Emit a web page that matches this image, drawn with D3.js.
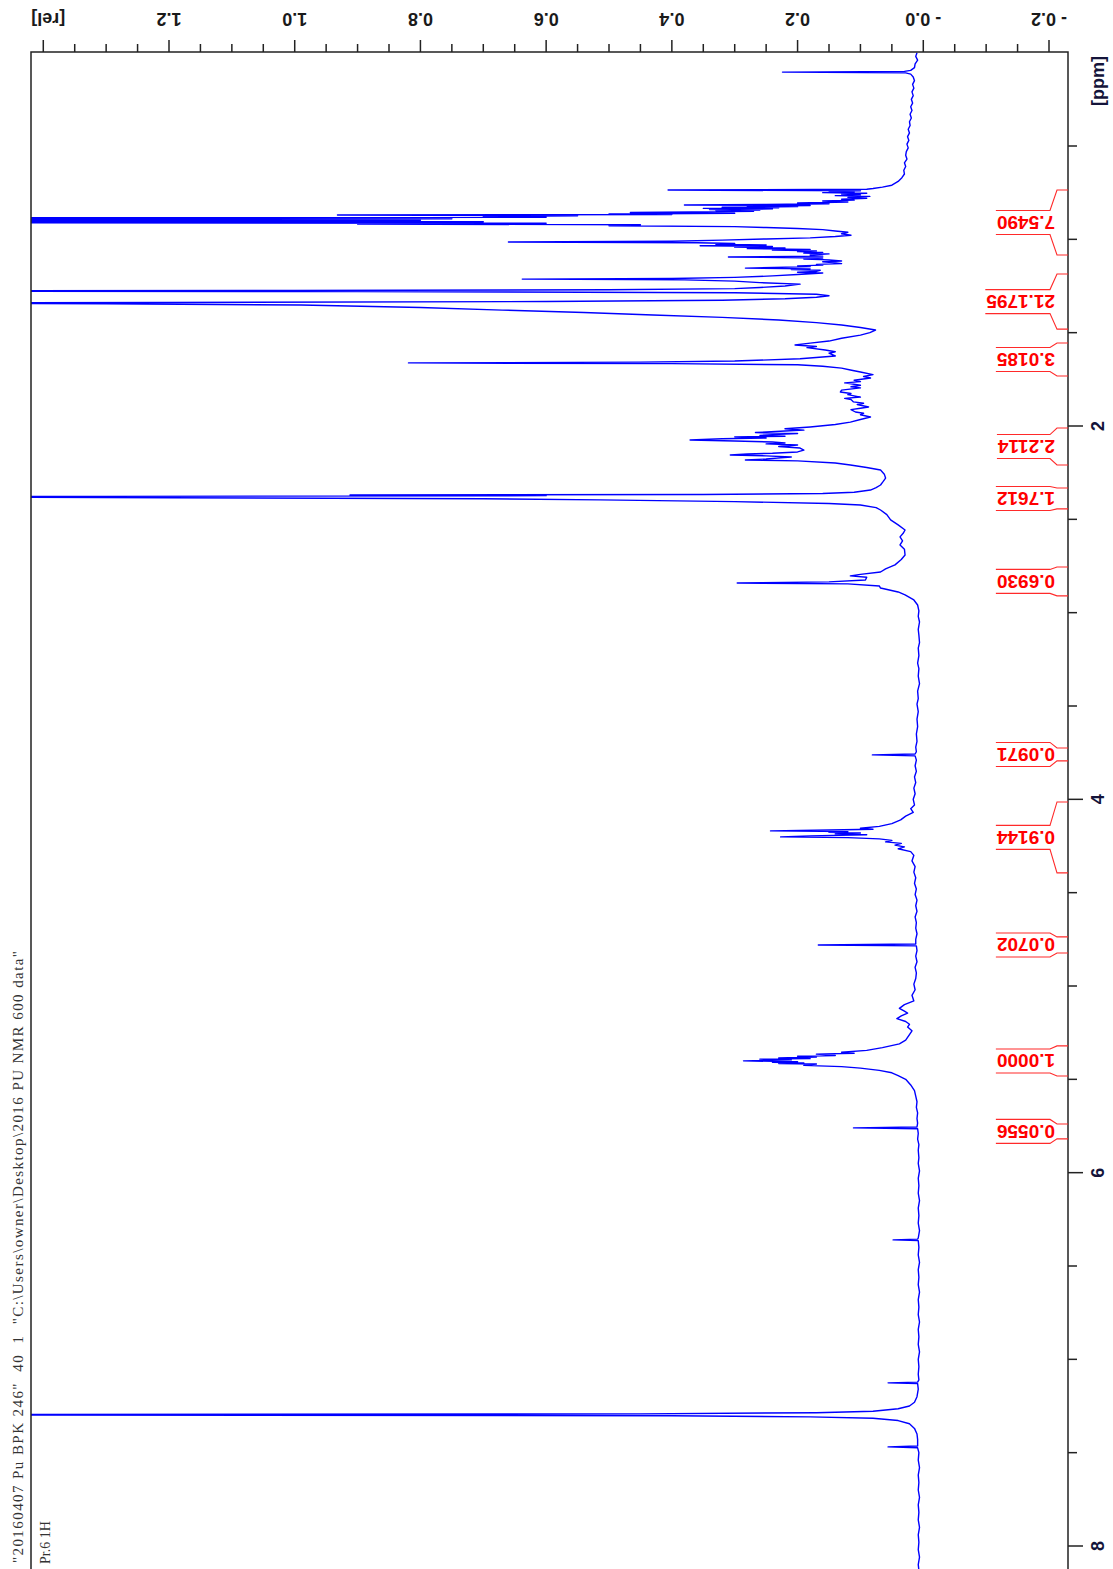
<!DOCTYPE html>
<html>
<head>
<meta charset="utf-8">
<script src="https://cdn.jsdelivr.net/npm/d3@7"></script>
<style>
  html, body { margin: 0; padding: 0; background: #fff; }
  svg { display: block; }
</style>
</head>
<body>
<svg id="chart" width="1113" height="1569"></svg>
<script>
// 1H spectrum as [chemical shift (ppm), relative intensity]
const spectrum = [
  [0.00, 0.010], [0.02, 0.012], [0.04, 0.009], [0.06, 0.013], [0.08, 0.014], [0.095, 0.020],
  [0.100, 0.030], [0.104, 0.224], [0.108, 0.028], [0.115, 0.020], [0.13, 0.016], [0.15, 0.014],
  [0.17, 0.017], [0.19, 0.015], [0.21, 0.018], [0.23, 0.016], [0.25, 0.019], [0.27, 0.017],
  [0.29, 0.020], [0.31, 0.018], [0.33, 0.021], [0.35, 0.019], [0.37, 0.022], [0.39, 0.021],
  [0.41, 0.024], [0.43, 0.022], [0.45, 0.025], [0.47, 0.023], [0.49, 0.026], [0.51, 0.024],
  [0.53, 0.027], [0.55, 0.028], [0.57, 0.026], [0.59, 0.030], [0.61, 0.028], [0.63, 0.031],
  [0.65, 0.030], [0.67, 0.034], [0.69, 0.040], [0.71, 0.050], [0.72, 0.065], [0.728, 0.080],
  [0.732, 0.090], [0.736, 0.406], [0.740, 0.100], [0.743, 0.150], [0.746, 0.110], [0.750, 0.160],
  [0.753, 0.090], [0.757, 0.130], [0.762, 0.100], [0.766, 0.140], [0.770, 0.085], [0.775, 0.120],
  [0.780, 0.090], [0.785, 0.130], [0.790, 0.110], [0.795, 0.160], [0.800, 0.120], [0.805, 0.200],
  [0.809, 0.150], [0.813, 0.250], [0.816, 0.380], [0.819, 0.180], [0.822, 0.280], [0.825, 0.200],
  [0.828, 0.320], [0.831, 0.230], [0.834, 0.350], [0.837, 0.240], [0.840, 0.340], [0.843, 0.260],
  [0.846, 0.330], [0.850, 0.270], [0.856, 0.466], [0.860, 0.300], [0.864, 0.500], [0.867, 0.400],
  [0.870, 0.932], [0.874, 0.550], [0.878, 0.700], [0.882, 0.600], [0.886, 1.800], [0.890, 0.750],
  [0.894, 1.800], [0.898, 0.800], [0.902, 1.800], [0.906, 0.700], [0.910, 1.800], [0.914, 0.600],
  [0.918, 0.900], [0.922, 0.450], [0.927, 0.500], [0.932, 0.300], [0.937, 0.250], [0.942, 0.200],
  [0.948, 0.160], [0.955, 0.140], [0.962, 0.120], [0.970, 0.130], [0.978, 0.115], [0.985, 0.140],
  [0.992, 0.180], [0.998, 0.250], [1.004, 0.320], [1.010, 0.400], [1.014, 0.660], [1.018, 0.360],
  [1.022, 0.300], [1.026, 0.330], [1.030, 0.250], [1.034, 0.355], [1.038, 0.240], [1.042, 0.300],
  [1.046, 0.220], [1.050, 0.280], [1.054, 0.180], [1.058, 0.240], [1.062, 0.170], [1.066, 0.200],
  [1.070, 0.160], [1.074, 0.190], [1.078, 0.150], [1.084, 0.180], [1.090, 0.160], [1.095, 0.310],
  [1.100, 0.160], [1.105, 0.190], [1.110, 0.150], [1.116, 0.130], [1.120, 0.160], [1.124, 0.145],
  [1.130, 0.130], [1.134, 0.170], [1.138, 0.160], [1.142, 0.200], [1.146, 0.180], [1.154, 0.283],
  [1.158, 0.180], [1.162, 0.210], [1.166, 0.164], [1.172, 0.170], [1.176, 0.200], [1.180, 0.160],
  [1.188, 0.200], [1.196, 0.240], [1.204, 0.300], [1.210, 0.400], [1.213, 0.638], [1.217, 0.380],
  [1.224, 0.300], [1.232, 0.260], [1.240, 0.196], [1.250, 0.220], [1.258, 0.260], [1.264, 0.300],
  [1.270, 0.500], [1.274, 1.000], [1.277, 1.800], [1.280, 0.900], [1.286, 0.300], [1.294, 0.170],
  [1.302, 0.150], [1.310, 0.170], [1.318, 0.220], [1.326, 0.320], [1.333, 0.600], [1.338, 1.200],
  [1.341, 1.800], [1.345, 1.300], [1.352, 0.990], [1.365, 0.800], [1.379, 0.670], [1.392, 0.540],
  [1.405, 0.430], [1.418, 0.320], [1.432, 0.230], [1.446, 0.170], [1.459, 0.130], [1.472, 0.100],
  [1.486, 0.076], [1.500, 0.085], [1.513, 0.100], [1.530, 0.130], [1.545, 0.150], [1.556, 0.180],
  [1.566, 0.204], [1.574, 0.170], [1.580, 0.185], [1.593, 0.156], [1.602, 0.140], [1.610, 0.150],
  [1.625, 0.140], [1.640, 0.196], [1.652, 0.300], [1.658, 0.450], [1.662, 0.819], [1.666, 0.400],
  [1.672, 0.200], [1.680, 0.160], [1.690, 0.130], [1.700, 0.116], [1.711, 0.100], [1.725, 0.080],
  [1.735, 0.095], [1.743, 0.084], [1.755, 0.110], [1.762, 0.100], [1.769, 0.125], [1.782, 0.100],
  [1.790, 0.115], [1.796, 0.100], [1.808, 0.130], [1.818, 0.132], [1.826, 0.115], [1.832, 0.120],
  [1.845, 0.100], [1.852, 0.125], [1.858, 0.115], [1.871, 0.111], [1.878, 0.095], [1.885, 0.105],
  [1.898, 0.087], [1.905, 0.100], [1.912, 0.115], [1.925, 0.108], [1.932, 0.095], [1.940, 0.100],
  [1.952, 0.084], [1.965, 0.100], [1.979, 0.116], [1.992, 0.140], [2.005, 0.180], [2.015, 0.220],
  [2.022, 0.190], [2.027, 0.220], [2.035, 0.267], [2.040, 0.200], [2.046, 0.240], [2.050, 0.260],
  [2.055, 0.220], [2.058, 0.300], [2.064, 0.250], [2.068, 0.320], [2.075, 0.371], [2.080, 0.300],
  [2.086, 0.240], [2.091, 0.220], [2.096, 0.250], [2.102, 0.200], [2.110, 0.230], [2.118, 0.196],
  [2.129, 0.190], [2.139, 0.200], [2.146, 0.240], [2.150, 0.280], [2.155, 0.307], [2.160, 0.250],
  [2.166, 0.210], [2.171, 0.227], [2.177, 0.250], [2.182, 0.283], [2.187, 0.200], [2.198, 0.140],
  [2.209, 0.116], [2.222, 0.090], [2.236, 0.068], [2.258, 0.062], [2.279, 0.060], [2.298, 0.064],
  [2.316, 0.068], [2.330, 0.075], [2.343, 0.084], [2.355, 0.110], [2.362, 0.160], [2.367, 0.350],
  [2.370, 0.912], [2.373, 0.600], [2.377, 1.300], [2.380, 1.800], [2.384, 1.200], [2.390, 0.700],
  [2.396, 0.514], [2.405, 0.300], [2.415, 0.150], [2.423, 0.100], [2.437, 0.075], [2.450, 0.068],
  [2.475, 0.058], [2.503, 0.052], [2.530, 0.040], [2.557, 0.029], [2.575, 0.032], [2.594, 0.037],
  [2.615, 0.033], [2.637, 0.037], [2.660, 0.030], [2.691, 0.029], [2.715, 0.035], [2.744, 0.045],
  [2.765, 0.060], [2.782, 0.068], [2.795, 0.100], [2.803, 0.116], [2.810, 0.090], [2.825, 0.092],
  [2.835, 0.150], [2.841, 0.296], [2.846, 0.120], [2.857, 0.070], [2.868, 0.068], [2.889, 0.040],
  [2.905, 0.029], [2.932, 0.015], [2.959, 0.009], [2.99, 0.007], [3.02, 0.008], [3.05, 0.006],
  [3.09, 0.008], [3.12, 0.007], [3.16, 0.006], [3.19, 0.008], [3.23, 0.007], [3.27, 0.009],
  [3.30, 0.007], [3.34, 0.008], [3.38, 0.006], [3.42, 0.009], [3.46, 0.008], [3.49, 0.010],
  [3.53, 0.008], [3.57, 0.010], [3.61, 0.009], [3.65, 0.011], [3.69, 0.010], [3.72, 0.012],
  [3.745, 0.011], [3.757, 0.013], [3.762, 0.081], [3.767, 0.013], [3.79, 0.011], [3.82, 0.013],
  [3.85, 0.011], [3.88, 0.014], [3.91, 0.012], [3.94, 0.015], [3.97, 0.013], [4.00, 0.016],
  [4.03, 0.014], [4.05, 0.020], [4.07, 0.016], [4.09, 0.028], [4.11, 0.036], [4.13, 0.050],
  [4.145, 0.070], [4.155, 0.100], [4.160, 0.080], [4.164, 0.150], [4.169, 0.243], [4.173, 0.120],
  [4.177, 0.150], [4.180, 0.100], [4.185, 0.140], [4.190, 0.090], [4.196, 0.180], [4.201, 0.227],
  [4.205, 0.120], [4.209, 0.090], [4.212, 0.070], [4.220, 0.050], [4.228, 0.060], [4.236, 0.035],
  [4.245, 0.045], [4.255, 0.030], [4.265, 0.040], [4.28, 0.020], [4.30, 0.015], [4.33, 0.018],
  [4.36, 0.013], [4.39, 0.015], [4.42, 0.012], [4.45, 0.014], [4.48, 0.011], [4.51, 0.013],
  [4.54, 0.010], [4.57, 0.012], [4.60, 0.010], [4.63, 0.013], [4.66, 0.011], [4.69, 0.012],
  [4.72, 0.010], [4.750, 0.012], [4.775, 0.012], [4.780, 0.167], [4.785, 0.011], [4.81, 0.010],
  [4.84, 0.012], [4.87, 0.010], [4.90, 0.013], [4.93, 0.011], [4.96, 0.012], [4.99, 0.015],
  [5.02, 0.013], [5.05, 0.018], [5.08, 0.015], [5.10, 0.030], [5.12, 0.038], [5.135, 0.030],
  [5.145, 0.025], [5.16, 0.035], [5.175, 0.042], [5.19, 0.028], [5.205, 0.022], [5.22, 0.025],
  [5.24, 0.018], [5.26, 0.022], [5.29, 0.028], [5.31, 0.038], [5.33, 0.065], [5.345, 0.090],
  [5.355, 0.130], [5.360, 0.110], [5.365, 0.170], [5.372, 0.140], [5.376, 0.200], [5.380, 0.170],
  [5.386, 0.230], [5.389, 0.180], [5.392, 0.260], [5.396, 0.210], [5.401, 0.286], [5.406, 0.200],
  [5.409, 0.240], [5.412, 0.190], [5.415, 0.230], [5.418, 0.170], [5.425, 0.190], [5.432, 0.130],
  [5.440, 0.100], [5.452, 0.070], [5.465, 0.050], [5.48, 0.040], [5.50, 0.028], [5.53, 0.020],
  [5.56, 0.014], [5.59, 0.012], [5.62, 0.010], [5.65, 0.011], [5.68, 0.009], [5.71, 0.010],
  [5.735, 0.009], [5.755, 0.010], [5.760, 0.111], [5.765, 0.009], [5.79, 0.008], [5.82, 0.009],
  [5.85, 0.007], [5.88, 0.008], [5.92, 0.007], [5.95, 0.008], [5.99, 0.006], [6.03, 0.008],
  [6.07, 0.007], [6.11, 0.008], [6.15, 0.006], [6.19, 0.008], [6.23, 0.007], [6.27, 0.008],
  [6.31, 0.006], [6.350, 0.008], [6.356, 0.009], [6.360, 0.048], [6.364, 0.008], [6.40, 0.007],
  [6.44, 0.008], [6.48, 0.006], [6.52, 0.008], [6.56, 0.007], [6.60, 0.008], [6.64, 0.006],
  [6.68, 0.008], [6.72, 0.007], [6.76, 0.008], [6.80, 0.006], [6.84, 0.008], [6.88, 0.007],
  [6.92, 0.008], [6.96, 0.006], [7.00, 0.008], [7.04, 0.007], [7.08, 0.008], [7.11, 0.007],
  [7.122, 0.009], [7.126, 0.056], [7.130, 0.009], [7.16, 0.008], [7.20, 0.010], [7.23, 0.014],
  [7.25, 0.022], [7.265, 0.040], [7.278, 0.080], [7.286, 0.170], [7.292, 0.450], [7.297, 1.800],
  [7.302, 0.400], [7.308, 0.180], [7.316, 0.080], [7.328, 0.040], [7.345, 0.022], [7.37, 0.014],
  [7.40, 0.010], [7.43, 0.009], [7.464, 0.009], [7.469, 0.056], [7.474, 0.009], [7.50, 0.007],
  [7.54, 0.008], [7.58, 0.006], [7.62, 0.008], [7.66, 0.007], [7.70, 0.008], [7.74, 0.006],
  [7.78, 0.008], [7.82, 0.007], [7.86, 0.008], [7.90, 0.006], [7.94, 0.008], [7.98, 0.007],
  [8.02, 0.008], [8.06, 0.006], [8.10, 0.008], [8.13, 0.007]
];

// integral regions: printed value and ppm limits
const integralLabels = ["7.5490", "21.1795", "3.0185", "2.2114", "1.7612", "0.6930",
                        "0.0971", "0.9144", "0.0702", "1.0000", "0.0556"];
const integralFrom = [0.736, 1.186, 1.555, 2.011, 2.332, 2.755, 3.725, 4.014, 4.737, 5.321, 5.739];
const integralTo   = [1.084, 1.481, 1.732, 2.209, 2.444, 2.910, 3.794, 4.394, 4.823, 5.482, 5.819];

// axis ticks and labels
const relTicks = [-0.2, 0.0, 0.2, 0.4, 0.6, 0.8, 1.0, 1.2, 1.4];
const relTickLabels = ["- 0.2", "- 0.0", "0.2", "0.4", "0.6", "0.8", "1.0", "1.2", "[rel]"];
const ppmTicks = [2, 4, 6, 8];
const ppmTickLabels = ["2", "4", "6", "8"];
const ppmUnit = "[ppm]";

// header lines
const titleLines = [
  '"20160407 Pu BPK 246"  40  1  "C:\\Users\\owner\\Desktop\\2016 PU NMR 600 data"',
  'Pr.6 1H'
];

const frame = { left: 31, top: 52, right: 1068, bottom: 1569 };
const svg = d3.select("#chart");

// intensity runs right-to-left, chemical shift runs top-to-bottom
const x = d3.scaleLinear().domain([-0.2, 1.2]).range([1049, 169]);
const y = d3.scaleLinear().domain([2, 8]).range([426, 1546]);

svg.append("defs").append("clipPath").attr("id", "plot-area")
  .append("rect")
  .attr("x", frame.left).attr("y", frame.top)
  .attr("width", frame.right - frame.left).attr("height", frame.bottom - frame.top);

// spectrum trace
svg.append("path")
  .datum(spectrum)
  .attr("clip-path", "url(#plot-area)")
  .attr("fill", "none")
  .attr("stroke", "#0000ff")
  .attr("stroke-width", 1.4)
  .attr("stroke-linejoin", "round")
  .attr("d", d3.line().x(d => x(d[1])).y(d => y(d[0])));

// frame: left edge, top (intensity) axis, right (shift) axis
svg.append("path")
  .attr("d", `M${frame.left},${frame.bottom}V${frame.top}H${frame.right}V${frame.bottom}`)
  .attr("fill", "none").attr("stroke", "#222").attr("stroke-width", 1.5);

const axisFont = "'Liberation Sans', Arial, sans-serif";

// top axis ticks
const relMinor = d3.range(-4, 29).map(i => i * 0.05)
  .filter(v => !relTicks.some(t => Math.abs(t - v) < 1e-6));
svg.append("g").selectAll("line").data(relMinor).join("line")
  .attr("x1", d => x(d)).attr("x2", d => x(d))
  .attr("y1", frame.top).attr("y2", frame.top - 8)
  .attr("stroke", "#222").attr("stroke-width", 1.5);
svg.append("g").selectAll("line").data(relTicks).join("line")
  .attr("x1", d => x(d)).attr("x2", d => x(d))
  .attr("y1", frame.top).attr("y2", frame.top - 12)
  .attr("stroke", "#222").attr("stroke-width", 1.5);
const relLabelX = d => x(d) + (d === 1.4 ? 5 : 0);
svg.append("g").selectAll("text").data(relTicks).join("text")
  .attr("x", relLabelX).attr("y", 19)
  .attr("transform", d => `rotate(180 ${relLabelX(d)} 19)`)
  .attr("text-anchor", "middle").attr("dominant-baseline", "central")
  .attr("font-family", axisFont).attr("font-weight", "bold").attr("font-size", 18)
  .attr("fill", "#1a1a1a")
  .text((d, i) => relTickLabels[i]);

// right axis ticks
const ppmMinor = d3.range(1, 17).map(i => i * 0.5).filter(v => !ppmTicks.includes(v));
svg.append("g").selectAll("line").data(ppmMinor).join("line")
  .attr("x1", frame.right).attr("x2", frame.right + 9)
  .attr("y1", d => y(d)).attr("y2", d => y(d))
  .attr("stroke", "#222").attr("stroke-width", 1.5);
svg.append("g").selectAll("line").data(ppmTicks).join("line")
  .attr("x1", frame.right).attr("x2", frame.right + 15)
  .attr("y1", d => y(d)).attr("y2", d => y(d))
  .attr("stroke", "#222").attr("stroke-width", 1.5);
svg.append("g").selectAll("text").data(ppmTicks).join("text")
  .attr("x", 1098).attr("y", d => y(d))
  .attr("transform", d => `rotate(-90 1098 ${y(d)})`)
  .attr("text-anchor", "middle").attr("dominant-baseline", "central")
  .attr("font-family", axisFont).attr("font-weight", "bold").attr("font-size", 18)
  .attr("fill", "#14143a")
  .text((d, i) => ppmTickLabels[i]);
svg.append("text")
  .attr("x", 1098).attr("y", 81)
  .attr("transform", "rotate(-90 1098 81)")
  .attr("text-anchor", "middle").attr("dominant-baseline", "central")
  .attr("font-family", axisFont).attr("font-weight", "bold").attr("font-size", 18)
  .attr("fill", "#14143a")
  .text(ppmUnit);

// integral brackets and values
const integ = svg.append("g");
const textX = 1055;
integralLabels.forEach((label, i) => {
  const y0 = y(integralFrom[i]), y1 = y(integralTo[i]);
  const cy = (y0 + y1) / 2;
  const t = integ.append("text")
    .attr("x", textX).attr("y", cy)
    .attr("transform", `rotate(180 ${textX} ${cy})`)
    .attr("text-anchor", "start").attr("dominant-baseline", "central")
    .attr("font-family", axisFont).attr("font-weight", "bold").attr("font-size", 19)
    .attr("fill", "#ff0000")
    .text(label);
  const w = t.node().getComputedTextLength();
  const left = textX - w - 1;
  const bt = cy - 12, bb = cy + 12;
  integ.append("path")
    .attr("d", `M${frame.right},${y0}H1057L1050,${bt}H${left}M${left},${bb}H1050L1057,${y1}H${frame.right}`)
    .attr("fill", "none").attr("stroke", "#ff2a2a").attr("stroke-width", 1.1);
});

// header text, written along the left edge
const serif = "'Liberation Serif', 'Times New Roman', serif";
const header = svg.append("g");
header.append("text")
  .attr("transform", "translate(18,1563) rotate(-90)")
  .attr("dominant-baseline", "central")
  .attr("xml:space", "preserve").style("white-space", "pre")
  .attr("font-family", serif).attr("font-size", 15)
  .attr("fill", "#333")
  .attr("textLength", 612).attr("lengthAdjust", "spacing")
  .text(titleLines[0]);
header.append("text")
  .attr("transform", "translate(45,1564) rotate(-90)")
  .attr("dominant-baseline", "central")
  .attr("xml:space", "preserve").style("white-space", "pre")
  .attr("font-family", serif).attr("font-size", 14)
  .attr("fill", "#333")
  .text(titleLines[1]);
</script>
</body>
</html>
